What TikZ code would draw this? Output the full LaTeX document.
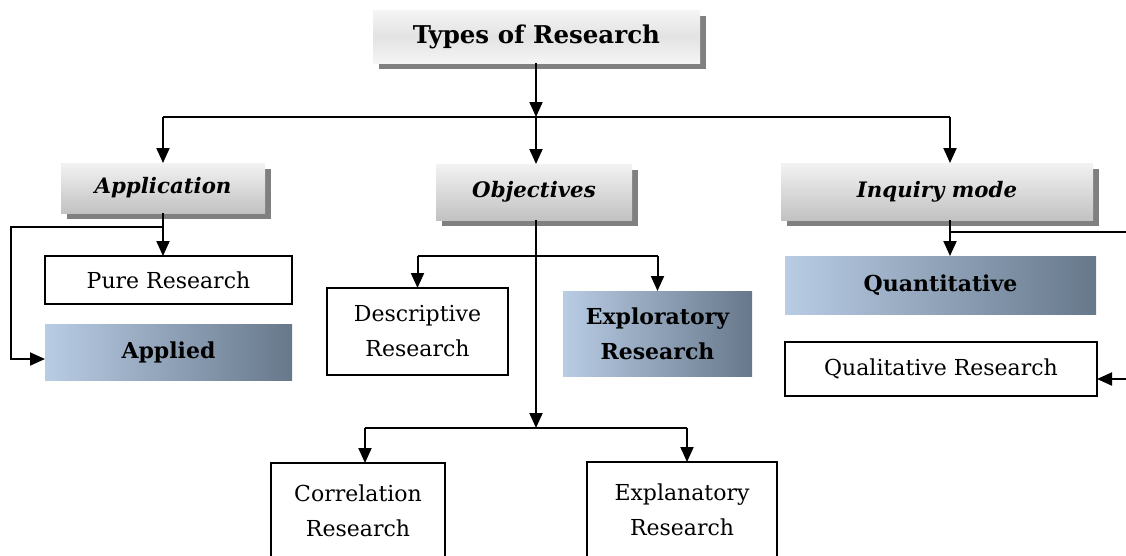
\documentclass[tikz,border=0pt]{standalone}
\usepackage{fontspec}
\setmainfont{DejaVu Serif}
\usetikzlibrary{arrows.meta,shadows,positioning}

\definecolor{tintL}{HTML}{B8CCE4}
\definecolor{tintR}{HTML}{67788B}
\definecolor{shade}{HTML}{808080}

\tikzset{
  box/.style={anchor=north west, inner sep=2pt, outer sep=0pt, align=center,
    font=\fontsize{22}{35}\selectfont},
  head/.style={box, top color=gray!10, bottom color=gray!48,
    font=\fontsize{21.3}{25}\selectfont\bfseries\itshape,
    drop shadow={shadow xshift=6pt, shadow yshift=-6pt, fill=shade, opacity=1}},
  roothead/.style={head, top color=gray!8, bottom color=gray!8, middle color=gray!22,
    font=\fontsize{24.5}{28}\selectfont\bfseries},
  plain/.style={box, draw, line width=1.7pt, fill=white},
  tinted/.style={box, left color=tintL, right color=tintR,
    font=\fontsize{22}{35}\selectfont\bfseries},
  link/.style={line width=2pt},
  arr/.style={link, -{Triangle[length=15pt,width=13pt]}},
}

\begin{document}
\begin{tikzpicture}[x=1pt,y=-1pt]
    \useasboundingbox (0,0) rectangle (1126,555);
    \clip (0,0) rectangle (1126,555);

    % Headings
    \node[roothead, minimum width=327pt, minimum height=53pt] (root) at (373,10) {Types of Research};
    \node[head, minimum width=204pt, minimum height=50pt] (app) at (61,163) {Application};
    \node[head, minimum width=196pt, minimum height=56pt] (obj) at (436,164) {Objectives};
    \node[head, minimum width=312pt, minimum height=57pt] (inq) at (781,163) {Inquiry mode};

    % Application branch
    \node[plain, minimum width=247pt, minimum height=48pt] (pure) at (45,256) {Pure Research};
    \node[tinted, minimum width=247pt, minimum height=56pt] (applied) at (45,324) {Applied};

    % Objectives branch
    \node[plain, minimum width=181pt, minimum height=87pt] (desc) at (327,288) {Descriptive\\Research};
    \node[tinted, minimum width=189pt, minimum height=85pt] (explo) at (563,291) {Exploratory\\Research};
    \node[plain, minimum width=174pt, minimum height=96pt] (corr) at (271,463) {Correlation\\Research};
    \node[plain, minimum width=190pt, minimum height=96pt] (explan) at (587,462) {Explanatory\\Research};

    % Inquiry mode branch
    \node[tinted, minimum width=311pt, minimum height=58pt] (quant) at (785,256) {Quantitative};
    \node[plain, minimum width=312pt, minimum height=54pt] (qual) at (785,342) {Qualitative Research};

    % Fork points
    \coordinate (fork) at (536,117);
    \coordinate (forkA) at (163,117);
    \coordinate (forkI) at (950,117);
    \coordinate (forkO) at (536,256);
    \coordinate (forkL) at (536,428);
    \coordinate (forkC) at (365,428);
    \coordinate (forkE) at (687,428);
    \coordinate (loopA) at (11,227);
    \coordinate (inA) at (45,359);
    \coordinate (loopI) at (1132,232);
    \coordinate (inQ) at (1097,379);

    % Root to headings
    \draw[arr] (fork |- root.south) -- (fork);
    \draw[link] (forkA) -- (forkI);
    \draw[arr] (forkA) -- (forkA |- app.north);
    \draw[arr] (fork) -- (fork |- obj.north);
    \draw[arr] (forkI) -- (forkI |- inq.north);

    % Application
    \draw[arr] (app.south) -- (app.south |- pure.north);
    \draw[arr] (app.south |- loopA) -- (loopA) -- (loopA |- inA) -- (inA);

    % Objectives
    \draw[arr] (forkO |- obj.south) -- (forkL);
    \draw[link] (desc.north |- forkO) -- (explo.north |- forkO);
    \draw[arr] (desc.north |- forkO) -- (desc.north);
    \draw[arr] (explo.north |- forkO) -- (explo.north);
    \draw[link] (forkC) -- (forkE);
    \draw[arr] (forkC) -- (forkC |- corr.north);
    \draw[arr] (forkE) -- (forkE |- explan.north);

    % Inquiry mode
    \draw[arr] (forkI |- inq.south) -- (forkI |- quant.north);
    \draw[arr] (forkI |- loopI) -- (loopI) -- (loopI |- inQ) -- (inQ);
\end{tikzpicture}
\end{document}
